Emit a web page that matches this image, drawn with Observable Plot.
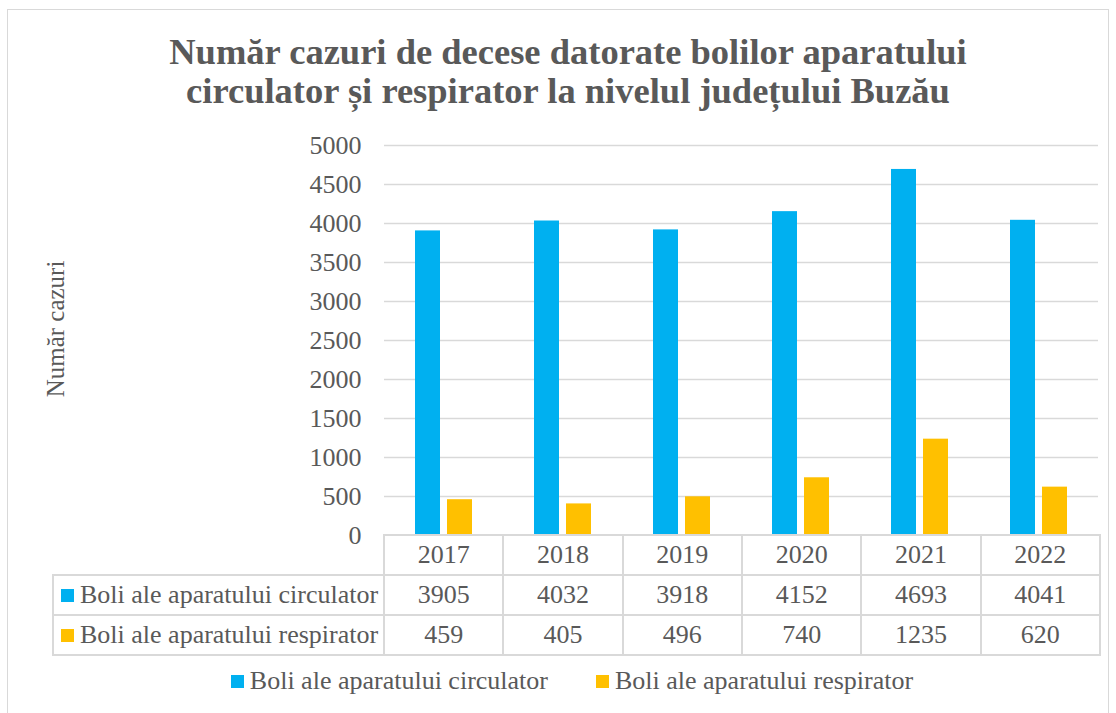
<!DOCTYPE html>
<html>
<head>
<meta charset="utf-8">
<script src="https://cdn.jsdelivr.net/npm/d3@7"></script>
<script src="https://cdn.jsdelivr.net/npm/@observablehq/plot@0.6"></script>
<style>
  html, body { margin: 0; padding: 0; background: #fff; }
  body { width: 1116px; height: 713px; position: relative; overflow: hidden; color: #595959; }
  body, div, span, table, td { font-family: 'Liberation Serif', serif !important; }
  #frame { position: absolute; left: 7px; top: 9px; width: 1102px; height: 720px; border: 1.5px solid #d9d9d9; box-sizing: border-box; }
  #title { position: absolute; left: 20px; width: 1096px; top: 32px; text-align: center; font-weight: bold; font-size: 36.5px; line-height: 39px; color: #595959; }
  #ylabel { position: absolute; left: 56px; top: 329px; transform: translate(-50%, -50%) rotate(-90deg); font-size: 25px; white-space: nowrap; }
  #chart { position: absolute; left: 0; top: 110px; }
  #chart svg text { font-family: 'Liberation Serif', serif !important; }
  #table { position: absolute; left: 52px; top: 534px; border-collapse: collapse; font-size: 26px; color: #595959; table-layout: fixed; }
  #table td { border: 2px solid #d9d9d9; height: 38px; padding: 0; text-align: center; line-height: 38px; }
  #table td.corner { border-top: none; border-left: none; }
  #table td.lab { text-align: left; padding-left: 7px; white-space: nowrap; }
  .sw { display: inline-block; width: 13px; height: 13px; margin-right: 6px; vertical-align: 1px; }
  #legend { position: absolute; left: 0; width: 1144px; top: 666px; text-align: center; font-size: 26px; line-height: 30px; }
  #legend span.item { display: inline-block; margin: 0 24px; }
</style>
</head>
<body>
<div id="frame"></div>
<div id="title">Număr cazuri de decese datorate bolilor aparatului<br>circulator și respirator la nivelul județului Buzău</div>
<div id="ylabel">Număr cazuri</div>
<div id="chart"></div>
<table id="table"></table>
<div id="legend"></div>
<script>
const years = ["2017", "2018", "2019", "2020", "2021", "2022"];
const seriesNames = ["Boli ale aparatului circulator", "Boli ale aparatului respirator"];
const circulator = [3905, 4032, 3918, 4152, 4693, 4041];
const respirator = [459, 405, 496, 740, 1235, 620];
const yTicks = [0, 500, 1000, 1500, 2000, 2500, 3000, 3500, 4000, 4500, 5000];
const colors = ["#00B0F0", "#FFC000"];

const data = [];
years.forEach((yr, i) => {
  data.push({year: yr, series: seriesNames[0], value: circulator[i]});
  data.push({year: yr, series: seriesNames[1], value: respirator[i]});
});

const plot = Plot.plot({
  width: 1116,
  height: 435,
  marginTop: 35,
  marginBottom: 10,
  marginLeft: 383,
  marginRight: 17,
  style: {fontFamily: "'Liberation Serif', serif", color: "#595959", background: "transparent", overflow: "visible"},
  fx: {domain: years, padding: 0, axis: null},
  x: {domain: seriesNames, paddingInner: 0.226, paddingOuter: 0.92, axis: null},
  y: {domain: [0, 5000], ticks: yTicks, axis: null},
  color: {domain: seriesNames, range: colors},
  marks: [
    Plot.gridY(yTicks.filter(d => d > 0), {stroke: "#d9d9d9", strokeOpacity: 1, strokeWidth: 1.5}),
    Plot.axisY({ticks: yTicks, tickSize: 0, tickPadding: 23, fontSize: 26, label: null, fill: "#595959", tickFormat: d => String(d)}),
    Plot.barY(data, {fx: "year", x: "series", y: "value", fill: "series"})
  ]
});
document.getElementById("chart").appendChild(plot);

// data table
const table = document.getElementById("table");
const colW = [331, ...years.map(() => (1099 - 383) / years.length)];
const cg = document.createElement("colgroup");
colW.forEach(w => { const c = document.createElement("col"); c.style.width = w + "px"; cg.appendChild(c); });
table.appendChild(cg);
const hr = document.createElement("tr");
const corner = document.createElement("td"); corner.className = "corner"; hr.appendChild(corner);
years.forEach(y => { const td = document.createElement("td"); td.textContent = y; hr.appendChild(td); });
table.appendChild(hr);
[circulator, respirator].forEach((vals, si) => {
  const tr = document.createElement("tr");
  const lab = document.createElement("td"); lab.className = "lab";
  lab.innerHTML = `<span class="sw" style="background:${colors[si]}"></span>${seriesNames[si]}`;
  tr.appendChild(lab);
  vals.forEach(v => { const td = document.createElement("td"); td.textContent = v; tr.appendChild(td); });
  table.appendChild(tr);
});

// legend
document.getElementById("legend").innerHTML = seriesNames.map((s, i) =>
  `<span class="item"><span class="sw" style="background:${colors[i]}"></span>${s}</span>`).join("");
</script>
</body>
</html>
